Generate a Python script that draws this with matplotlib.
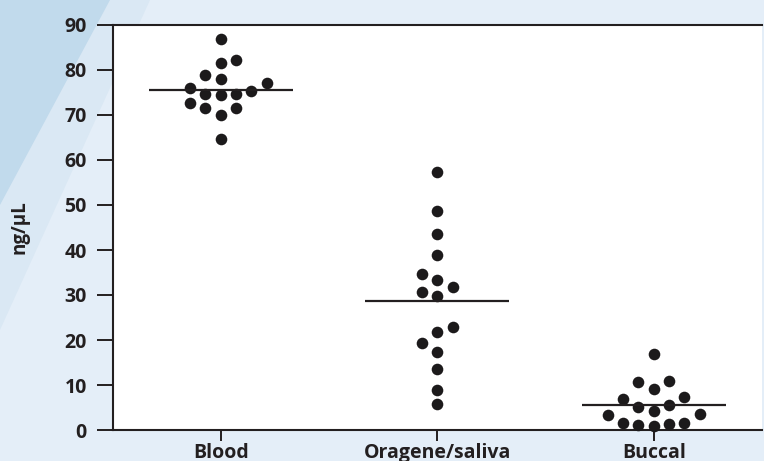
import numpy as np
import matplotlib
matplotlib.use('Agg')
import matplotlib.pyplot as plt
from matplotlib.patches import Polygon

# DNA yield per sample type (ng/uL)
categories = ['Blood', 'Oragene/saliva', 'Buccal']
blood = [64.6, 70.0, 71.5, 71.5, 72.7, 74.4, 74.7, 74.7, 75.4, 75.9, 77.2, 78.1, 78.8, 81.5, 82.2, 86.9]
oragene = [5.8, 9.0, 13.5, 17.3, 19.3, 21.7, 22.8, 29.8, 30.7, 31.7, 33.3, 34.7, 38.9, 43.5, 48.7, 57.3]
buccal = [0.9, 1.1, 1.3, 1.5, 1.6, 3.3, 3.5, 4.2, 5.2, 5.6, 7.0, 7.3, 9.1, 10.7, 11.0, 16.8]
y_ticks = [0, 10, 20, 30, 40, 50, 60, 70, 80, 90]
y_label = 'ng/µL'

ink = '#231f20'
dot_color = '#1c1a1b'
slot_width = 0.0707     # horizontal step between dot columns (category units)
min_gap = 3.15          # two dots in one column must be this far apart (ng/uL)
mean_half = 0.333

plt.rcParams['font.family'] = ['Open Sans', 'DejaVu Sans']


def swarm_slots(values, gap, max_k=8):
    # greedy scatter-dot layout: lowest value first, closest free column,
    # ties go to the side that holds fewer dots so far
    order = np.argsort(values, kind='stable')
    placed = {}
    slots = np.zeros(len(values), dtype=int)
    for idx in order:
        v = values[idx]
        chosen = 0
        for k in range(max_k):
            cands = [0] if k == 0 else [-k, k]
            free = [s for s in cands if all(abs(v - u) >= gap for u in placed.get(s, []))]
            if not free:
                continue
            if len(free) == 2:
                left = sum(len(p) for s, p in placed.items() if s < 0)
                right = sum(len(p) for s, p in placed.items() if s > 0)
                chosen = k if right < left else -k
            else:
                chosen = free[0]
            break
        placed.setdefault(chosen, []).append(v)
        slots[idx] = chosen
    return slots


fig = plt.figure(figsize=(7.64, 4.61), dpi=100)
fig.patch.set_facecolor('#e4eef8')

# darker wedge in the top-left corner of the page background, with a soft fringe
fig.patches.append(Polygon([(0, 1), (150 / 764, 1), (0, 1 - 330 / 461)], closed=True,
                           transform=fig.transFigure, facecolor='#dae8f4', edgecolor='none', zorder=-11))
fig.patches.append(Polygon([(0, 1), (110 / 764, 1), (0, 1 - 205 / 461)], closed=True,
                           transform=fig.transFigure, facecolor='#c1daec', edgecolor='none', zorder=-10))

ax = fig.add_axes([112.5 / 764, 31 / 461, 649.5 / 764, 405 / 461])
ax.set_facecolor('white')

groups = [blood, oragene, buccal]
for i, vals in enumerate(groups, start=1):
    vals = np.array(vals)
    slots = swarm_slots(vals, min_gap)
    ax.scatter(i + slots * slot_width, vals, s=70, color=dot_color, linewidths=0, zorder=3, clip_on=False)
    ax.hlines(vals.mean(), i - mean_half, i + mean_half, color=ink, linewidth=1.6, zorder=4)

ax.set_xlim(0.5, 3.5)
ax.set_ylim(0, 90)
ax.set_xticks(range(1, len(categories) + 1))
ax.set_xticklabels(categories)
ax.set_yticks(y_ticks)

for side in ['left', 'top', 'bottom']:
    ax.spines[side].set_color(ink)
    ax.spines[side].set_linewidth(1.5)
ax.spines['right'].set_visible(False)

ax.tick_params(axis='y', length=11.5, width=1.4, pad=7.0, color=ink, labelcolor=ink, labelsize=14)
ax.tick_params(axis='x', length=8, width=1.4, pad=1.5, color=ink, labelcolor=ink, labelsize=14)
for lab in ax.get_xticklabels() + ax.get_yticklabels():
    lab.set_fontweight('bold')

ax.set_ylabel(y_label, fontsize=13.5, fontweight='bold', color=ink)
ax.yaxis.set_label_coords(-0.128, 0.5)

fig.savefig('out.png', dpi=100, facecolor=fig.get_facecolor())
